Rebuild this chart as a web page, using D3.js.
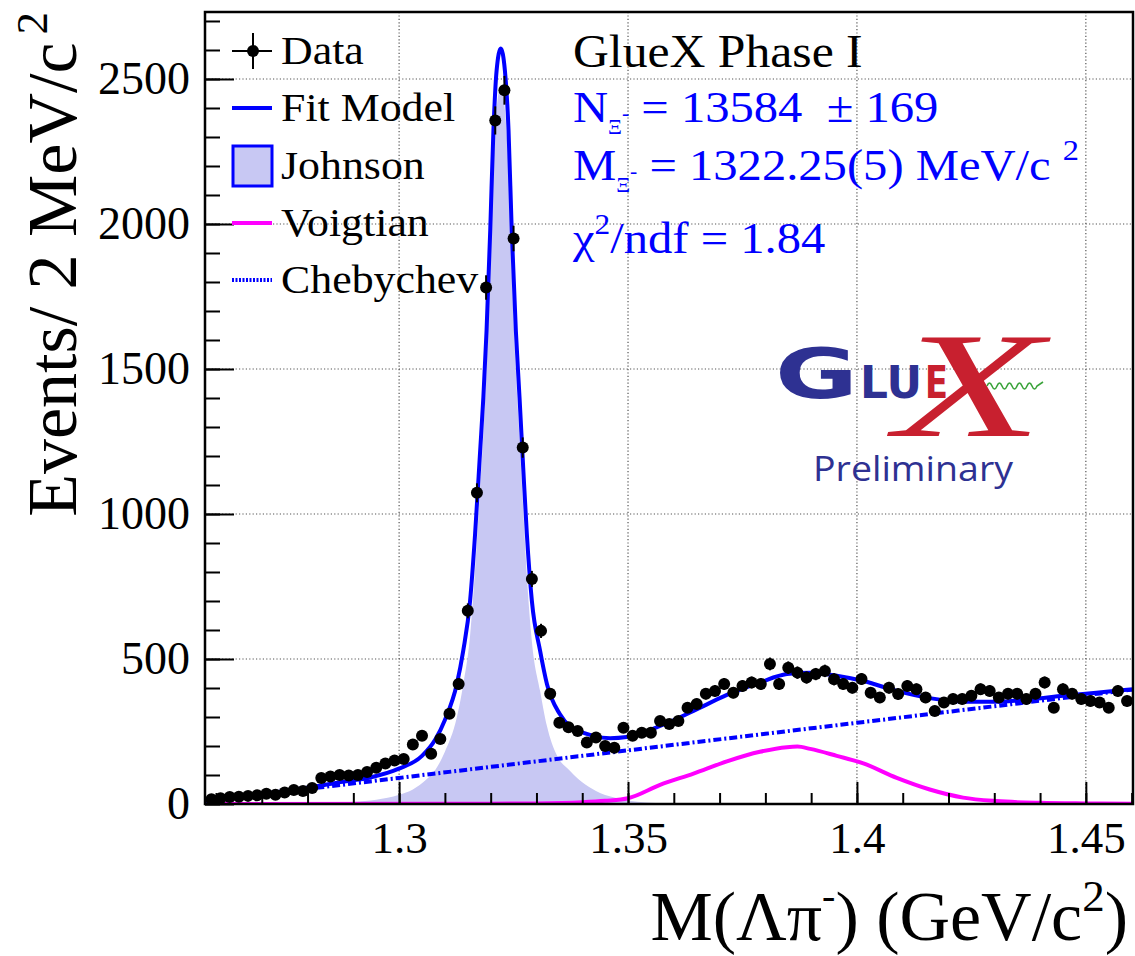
<!DOCTYPE html>
<html>
<head>
<meta charset="utf-8">
<script src="https://cdn.jsdelivr.net/npm/d3@7"></script>
<style>
  body { margin: 0; background: #fff; }
</style>
</head>
<body>
<svg id="chart" width="1135" height="956" font-family="'Liberation Serif', 'Times New Roman', serif"></svg>
<script>
// histogram: 2 MeV bins starting at 1.258 GeV
var massLo = 1.258;
var binWidth = 0.002;
var counts = [
  16, 20, 24, 25, 28, 30, 35, 32, 40, 48,
  45, 55, 90, 95, 100, 98, 100, 110, 125, 140,
  150, 155, 205, 235, 173, 224, 311, 414, 666, 1073,
  1781, 2357, 2461, 1950, 1229, 776, 597, 380, 280, 265,
  252, 212, 229, 200, 194, 263, 235, 246, 246, 286,
  276, 286, 332, 345, 380, 390, 414, 384, 407, 419,
  414, 483, 414, 470, 453, 436, 448, 459, 430, 414,
  401, 431, 384, 367, 401, 379, 407, 396, 367, 321,
  350, 362, 362, 373, 396, 390, 367, 380, 380, 362,
  380, 419, 332, 396, 380, 362, 355, 350, 332, 390,
  355
];

// fit curves as [mass, events]
var fitModel = [
  [1.2576, 10], [1.265, 24], [1.2723, 39], [1.2795, 55], [1.2867, 74], [1.2941, 93],
  [1.2998, 121], [1.305, 166], [1.308, 225], [1.31, 290], [1.3126, 413], [1.314, 528],
  [1.3155, 700], [1.3166, 932], [1.3177, 1218], [1.3184, 1402], [1.3191, 1632],
  [1.3199, 1977], [1.3206, 2323], [1.3213, 2530], [1.3222, 2605], [1.3231, 2530],
  [1.3239, 2323], [1.3246, 1977], [1.3255, 1632], [1.3263, 1402], [1.3271, 1161],
  [1.3279, 931], [1.329, 700], [1.3308, 528], [1.3323, 413], [1.3351, 310],
  [1.3373, 268], [1.3388, 255], [1.3424, 235], [1.3461, 227], [1.3497, 231],
  [1.357, 269], [1.3643, 321], [1.3716, 376], [1.3788, 419], [1.3847, 448],
  [1.3898, 453], [1.3956, 442], [1.4014, 424], [1.4087, 390], [1.4159, 365],
  [1.4232, 353], [1.4305, 353], [1.4378, 361], [1.445, 373], [1.4523, 384], [1.4603, 396]
];

var johnson = [
  [1.2576, 0], [1.275, 1], [1.285, 4], [1.29, 8], [1.295, 15], [1.3, 32], [1.303, 50],
  [1.306, 85], [1.308, 120], [1.31, 180], [1.3126, 298], [1.314, 411], [1.3155, 580],
  [1.3166, 810], [1.3177, 1094], [1.3184, 1277], [1.3191, 1505], [1.3199, 1849],
  [1.3206, 2193], [1.3213, 2399], [1.3222, 2472], [1.3231, 2395], [1.3239, 2187],
  [1.3246, 1840], [1.3255, 1493], [1.3263, 1261], [1.3271, 1019], [1.3279, 787],
  [1.329, 560], [1.3308, 390], [1.3323, 268], [1.3344, 170], [1.3373, 115],
  [1.34, 75], [1.343, 45], [1.347, 22], [1.352, 8], [1.36, 2], [1.37, 0], [1.4603, 0]
];

var voigtian = [
  [1.2576, 0], [1.31, 0.5], [1.33, 2], [1.34, 6], [1.345, 11], [1.35, 20], [1.357, 66],
  [1.3643, 105], [1.3716, 147], [1.3788, 180], [1.3847, 196], [1.387, 198],
  [1.3898, 190], [1.3956, 166], [1.4014, 140], [1.4087, 90], [1.4159, 50],
  [1.4232, 22], [1.4305, 10], [1.44, 4], [1.45, 2], [1.4603, 1]
];

var chebychev = [
  [1.2576, 10], [1.28, 52], [1.3, 90], [1.32, 128], [1.34, 166], [1.36, 204],
  [1.38, 242], [1.4, 280], [1.42, 318], [1.44, 356], [1.4603, 395]
];

var xTicks = [1.3, 1.35, 1.4, 1.45];
var yTicks = [0, 500, 1000, 1500, 2000, 2500];

var svg = d3.select('#chart');
var padL = 205, padR = 1133, padT = 12, padB = 804;

var x = d3.scaleLinear().domain([1.2576, 1.4603]).range([padL, padR]);
var y = d3.scaleLinear().domain([0, 2731]).range([padB, padT]);

// text that is a bit wider than the plain font, like the original
var wideText = function(px, py, sx, size) {
  return svg.append('g').attr('transform', 'translate(' + px + ',' + py + ') scale(' + sx + ',1)')
    .append('text').attr('font-size', size);
};

svg.append('clipPath').attr('id', 'plotclip')
  .append('rect').attr('x', padL).attr('y', padT)
  .attr('width', padR - padL).attr('height', padB - padT);

// dotted grid
var grid = svg.append('g');
grid.selectAll('line.gx').data(xTicks).enter().append('line').attr('class', 'gx')
  .attr('x1', function(d) { return x(d); }).attr('x2', function(d) { return x(d); })
  .attr('y1', padT).attr('y2', padB);
grid.selectAll('line.gy').data(yTicks.slice(1)).enter().append('line').attr('class', 'gy')
  .attr('y1', function(d) { return y(d); }).attr('y2', function(d) { return y(d); })
  .attr('x1', padL).attr('x2', padR);
grid.selectAll('line')
  .attr('stroke', '#555').attr('stroke-width', 1.2).attr('stroke-dasharray', '1.2,2.2');

var plot = svg.append('g').attr('clip-path', 'url(#plotclip)');

// Johnson component (filled)
var area = d3.area()
  .x(function(d) { return x(d[0]); })
  .y0(y(0))
  .y1(function(d) { return y(d[1]); })
  .curve(d3.curveMonotoneX);
plot.append('path').datum(johnson).attr('d', area).attr('fill', '#c8c8f3');

var line = d3.line()
  .x(function(d) { return x(d[0]); })
  .y(function(d) { return y(d[1]); })
  .curve(d3.curveMonotoneX);

plot.append('path').datum(chebychev).attr('d', line)
  .attr('fill', 'none').attr('stroke', '#0000ff').attr('stroke-width', 4)
  .attr('stroke-dasharray', '8,3,2,3');

plot.append('path').datum(voigtian).attr('d', line)
  .attr('fill', 'none').attr('stroke', '#ff00ff').attr('stroke-width', 4);

plot.append('path').datum(fitModel).attr('d', line)
  .attr('fill', 'none').attr('stroke', '#0000ff').attr('stroke-width', 4);

// data points with sqrt(N) errors
var points = counts.map(function(c, i) {
  return { m: massLo + binWidth * (i + 0.5), n: c };
});
var pts = plot.append('g').selectAll('g').data(points).enter().append('g');
pts.append('line')
  .attr('x1', function(d) { return x(d.m); }).attr('x2', function(d) { return x(d.m); })
  .attr('y1', function(d) { return y(d.n + Math.sqrt(d.n)); })
  .attr('y2', function(d) { return y(d.n - Math.sqrt(d.n)); })
  .attr('stroke', '#000').attr('stroke-width', 2);
pts.append('line')
  .attr('x1', function(d) { return x(d.m - binWidth / 2); })
  .attr('x2', function(d) { return x(d.m + binWidth / 2); })
  .attr('y1', function(d) { return y(d.n); }).attr('y2', function(d) { return y(d.n); })
  .attr('stroke', '#000').attr('stroke-width', 2);
pts.append('circle')
  .attr('cx', function(d) { return x(d.m); })
  .attr('cy', function(d) { return y(d.n); })
  .attr('r', 6).attr('fill', '#000');

// axes, ticks inside the frame
var yMajor = svg.append('g').attr('transform', 'translate(' + padL + ',0)')
  .call(d3.axisLeft(y).tickValues(yTicks).tickSize(-29).tickPadding(15).tickFormat(d3.format('d')));
var yMinor = svg.append('g').attr('transform', 'translate(' + padL + ',0)')
  .call(d3.axisLeft(y).tickValues(d3.range(0, 2701, 100)).tickSize(-15).tickFormat(''));
var xMajor = svg.append('g').attr('transform', 'translate(0,' + padB + ')')
  .call(d3.axisBottom(x).tickValues(xTicks).tickSize(-22).tickPadding(17)
    .tickFormat(function(d) { return String(d); }));
var xMinor = svg.append('g').attr('transform', 'translate(0,' + padB + ')')
  .call(d3.axisBottom(x).tickValues(d3.range(1.26, 1.4601, 0.01)).tickSize(-11).tickFormat(''));

[yMajor, yMinor, xMajor, xMinor].forEach(function(a) {
  a.attr('font-family', null).attr('font-size', null);
  a.select('.domain').remove();
  a.selectAll('.tick line').attr('stroke', '#000').attr('stroke-width', 2);
  a.selectAll('.tick text').attr('font-size', 45).attr('fill', '#000');
});
yMajor.selectAll('.tick text').attr('font-size', 46);

svg.append('rect').attr('x', padL).attr('y', padT)
  .attr('width', padR - padL).attr('height', padB - padT)
  .attr('fill', 'none').attr('stroke', '#000').attr('stroke-width', 2.5);

// axis titles
var xt = svg.append('text').attr('x', 1128).attr('y', 940)
  .attr('text-anchor', 'end').attr('font-size', 70);
xt.append('tspan').text('M(Λπ');
xt.append('tspan').attr('font-size', 40).attr('dy', -31).text('-');
xt.append('tspan').attr('dy', 31).text(') (GeV/c');
xt.append('tspan').attr('font-size', 45).attr('dy', -29).text('2');
xt.append('tspan').attr('dy', 29).text(')');

var yt = svg.append('text').attr('transform', 'translate(76,12) rotate(-90)')
  .attr('text-anchor', 'end').attr('font-size', 70);
yt.append('tspan').text('Events/ 2 MeV/c');
yt.append('tspan').attr('font-size', 45).attr('dy', -29).attr('dx', 8).text('2');

// legend
var legendRows = [
  { label: 'Data', cy: 51 },
  { label: 'Fit Model', cy: 108 },
  { label: 'Johnson', cy: 166 },
  { label: 'Voigtian', cy: 223 },
  { label: 'Chebychev', cy: 280 }
];
legendRows.forEach(function(d) {
  wideText(281, d.cy + 13, 1.07, 41).text(d.label);
});
var lg = svg.append('g');
lg.append('line').attr('x1', 253).attr('x2', 253).attr('y1', 33).attr('y2', 69)
  .attr('stroke', '#000').attr('stroke-width', 2);
lg.append('line').attr('x1', 232).attr('x2', 272).attr('y1', 51).attr('y2', 51)
  .attr('stroke', '#000').attr('stroke-width', 2);
lg.append('circle').attr('cx', 253).attr('cy', 51).attr('r', 6).attr('fill', '#000');
lg.append('line').attr('x1', 232).attr('x2', 272).attr('y1', 108).attr('y2', 108)
  .attr('stroke', '#0000ff').attr('stroke-width', 4);
lg.append('rect').attr('x', 233).attr('y', 146).attr('width', 39).attr('height', 40)
  .attr('fill', '#c8c8f3').attr('stroke', '#0000ff').attr('stroke-width', 3);
lg.append('line').attr('x1', 232).attr('x2', 272).attr('y1', 223).attr('y2', 223)
  .attr('stroke', '#ff00ff').attr('stroke-width', 4);
lg.append('line').attr('x1', 232).attr('x2', 272).attr('y1', 280).attr('y2', 280)
  .attr('stroke', '#0000ff').attr('stroke-width', 4).attr('stroke-dasharray', '2,1.5');

// fit results
wideText(573, 67, 1.08, 46).text('GlueX Phase I');

var t1 = wideText(573, 122, 1.08, 45).attr('fill', '#0000ff');
t1.append('tspan').text('N');
t1.append('tspan').attr('font-size', 20).attr('dy', 12).text('Ξ');
t1.append('tspan').attr('font-size', 20).attr('dy', -14).text('-');
t1.append('tspan').attr('dy', 2).attr('xml:space', 'preserve').text(' = 13584  ± 169');

var t2 = wideText(573, 180, 1.08, 45).attr('fill', '#0000ff');
t2.append('tspan').text('M');
t2.append('tspan').attr('font-size', 20).attr('dy', 12).text('Ξ');
t2.append('tspan').attr('font-size', 20).attr('dy', -14).text('-');
t2.append('tspan').attr('dy', 2).text(' = 1322.25(5) MeV/c ');
t2.append('tspan').attr('font-size', 30).attr('dy', -20).text('2');

var t3 = wideText(573, 253, 1.08, 45).attr('fill', '#0000ff');
t3.append('tspan').text('χ');
t3.append('tspan').attr('font-size', 29).attr('dy', -19).text('2');
t3.append('tspan').attr('dy', 19).text('/ndf = 1.84');

// GlueX logo
var logo = svg.append('g');
logo.append('text').attr('x', 775).attr('y', 398).attr('font-family', '"DejaVu Sans", sans-serif')
  .attr('font-weight', 'bold').attr('font-size', 69).attr('fill', '#2e3192')
  .attr('textLength', 83).attr('lengthAdjust', 'spacingAndGlyphs').text('G');
logo.append('text').attr('x', 860).attr('y', 398).attr('font-family', '"DejaVu Sans", sans-serif')
  .attr('font-weight', 'bold').attr('font-size', 45).attr('fill', '#2e3192')
  .attr('textLength', 62).attr('lengthAdjust', 'spacingAndGlyphs').text('LU');
logo.append('text').attr('x', 925).attr('y', 398).attr('font-family', '"DejaVu Sans", sans-serif')
  .attr('font-weight', 'bold').attr('font-size', 45).attr('fill', '#c8202f')
  .attr('textLength', 23).attr('lengthAdjust', 'spacingAndGlyphs').text('E');
logo.append('text').attr('x', 895).attr('y', 436).attr('font-style', 'italic')
  .attr('font-size', 150).attr('fill', '#c8202f')
  .attr('textLength', 148).attr('lengthAdjust', 'spacingAndGlyphs').text('X');
logo.append('path')
  .attr('d', 'M987,386 q2.5,-6 5,0 t5,0 t5,0 t5,0 t5,0 t5,0 t5,0 t5,0 t5,0 t5,0 l6,-4')
  .attr('fill', 'none').attr('stroke', '#3aa33a').attr('stroke-width', 1.6);
logo.append('text').attr('x', 813).attr('y', 481).attr('font-family', '"Open Sans", sans-serif')
  .attr('font-size', 35).attr('fill', '#2e3192')
  .attr('textLength', 200).attr('lengthAdjust', 'spacingAndGlyphs').text('Preliminary');
</script>
</body>
</html>
